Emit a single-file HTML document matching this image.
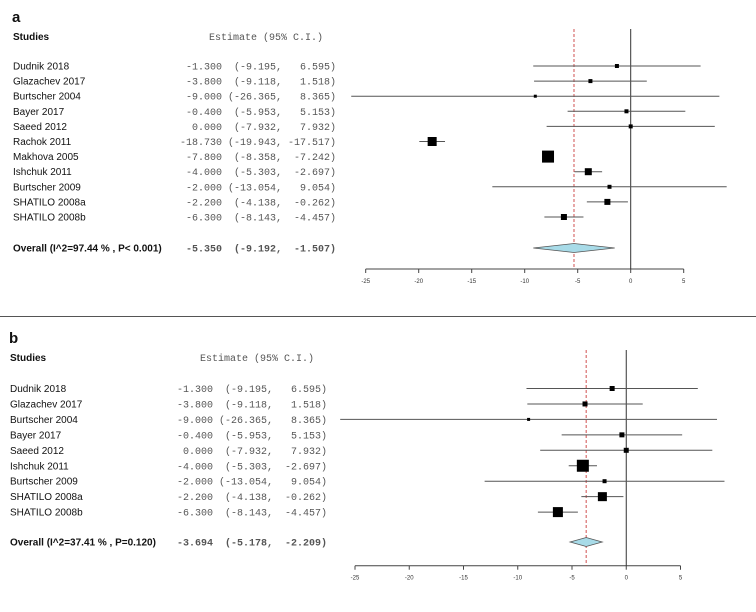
<!DOCTYPE html>
<html><head><meta charset="utf-8"><style>
html,body{margin:0;padding:0;background:#fff;}
svg{display:block;}
.lab{font-family:"Liberation Sans",sans-serif;font-size:10px;fill:#111;}
.mono{font-family:"Liberation Mono",monospace;font-size:10px;fill:#555;white-space:pre;}
.tick{font-family:"Liberation Sans",sans-serif;font-size:6px;fill:#333;}
</style></head><body>
<svg id="chart" width="756" height="612" viewBox="0 0 756 612">
<line x1="0" y1="316.5" x2="756" y2="316.5" stroke="#555" stroke-width="1"/>
</svg>
<script>
const studiesA = ["Dudnik 2018","Glazachev 2017","Burtscher 2004","Bayer 2017","Saeed 2012","Rachok 2011","Makhova 2005","Ishchuk 2011","Burtscher 2009","SHATILO 2008a","SHATILO 2008b"];
const estA = [-1.3,-3.8,-9.0,-0.4,0.0,-18.73,-7.8,-4.0,-2.0,-2.2,-6.3];
const lowA = [-9.195,-9.118,-26.365,-5.953,-7.932,-19.943,-8.358,-5.303,-13.054,-4.138,-8.143];
const highA = [6.595,1.518,8.365,5.153,7.932,-17.517,-7.242,-2.697,9.054,-0.262,-4.457];
const weightA = [4,4,3,4,4,9,12,7,4,6,6];
const overallA = [-5.350,-9.192,-1.507];
const overallLabelA = "Overall (I^2=97.44 % , P< 0.001)";

const studiesB = ["Dudnik 2018","Glazachev 2017","Burtscher 2004","Bayer 2017","Saeed 2012","Ishchuk 2011","Burtscher 2009","SHATILO 2008a","SHATILO 2008b"];
const estB = [-1.3,-3.8,-9.0,-0.4,0.0,-4.0,-2.0,-2.2,-6.3];
const lowB = [-9.195,-9.118,-26.365,-5.953,-7.932,-5.303,-13.054,-4.138,-8.143];
const highB = [6.595,1.518,8.365,5.153,7.932,-2.697,9.054,-0.262,-4.457];
const weightB = [5,5,3,5,5,12,4,9,10];
const overallB = [-3.694,-5.178,-2.209];
const overallLabelB = "Overall (I^2=37.41 % , P=0.120)";

const ticks = [-25,-20,-15,-10,-5,0,5];

const NS="http://www.w3.org/2000/svg";
const svg=document.getElementById('chart');
function mk(tag,attrs,parent){const e=document.createElementNS(NS,tag);for(const k in attrs)e.setAttribute(k,attrs[k]);(parent||svg).appendChild(e);return e;}
function fmt(v){return v.toFixed(3);}
function pad(s,n){while(s.length<n)s=" "+s;return s;}
function ciText(e,lo,hi){return pad(fmt(e),7)+" "+pad("("+fmt(lo),8)+", "+pad(fmt(hi),7)+")";}

function panel(o){
  const g=mk('g',{});
  
  
  const x=v=>o.x0+(v+25)*o.k;
  const y=i=>o.row0+i*o.dy;
  let t=mk('text',{x:o.tx-1,y:o.top-18,'font-family':'Liberation Sans,sans-serif','font-size':'15','font-weight':'bold',fill:'#111'},g);t.textContent=o.letter;
  
  t=mk('text',{x:o.tx,y:o.top,class:'lab','font-weight':'bold'},g);t.textContent="Studies";
  
  t=mk('text',{x:o.ex-127,y:o.top,class:'mono'},g);t.textContent="Estimate (95% C.I.)";
  
  const ay=o.axisY;
  let l=mk('line',{x1:x(-25),y1:ay,x2:x(5),y2:ay,stroke:'#444','stroke-width':1},g);
  
  ticks.forEach(v=>{
    const tl=mk('line',{x1:x(v),y1:ay,x2:x(v),y2:ay+4,stroke:'#444'},g);
    
    const tt=mk('text',{x:x(v),y:ay+14,class:'tick','text-anchor':'middle'},g);tt.textContent=v;
    
  });
  l=mk('line',{x1:x(0),y1:o.zeroTop,x2:x(0),y2:ay,stroke:'#333','stroke-width':1},g);
  
  l=mk('line',{x1:x(o.overall[0]),y1:o.zeroTop,x2:x(o.overall[0]),y2:ay,stroke:'#d05050','stroke-width':1,'stroke-dasharray':'3,2'},g);
  
  o.studies.forEach((s,i)=>{
    const yy=y(i);
    let tx=mk('text',{x:o.tx,y:yy+3.5,class:'lab'},g);tx.textContent=s;
    
    tx=mk('text',{x:o.ex,y:yy+3.5,class:'mono','text-anchor':'end'},g);
    tx.textContent=ciText(o.est[i],o.low[i],o.high[i]);
    
    const ci=mk('line',{x1:x(o.low[i]),y1:yy,x2:x(o.high[i]),y2:yy,stroke:'#555','stroke-width':1},g);
    
    const w=o.w[i];
    const sq=mk('rect',{x:x(o.est[i])-w/2,y:yy-w/2,width:w,height:w,fill:'#000'},g);
    
  });
  const oy=o.overallY;
  let tx=mk('text',{x:o.tx,y:oy+3.5,class:'lab','font-weight':'bold'},g);tx.textContent=o.overallLabel;
  
  tx=mk('text',{x:o.ex,y:oy+3.5,class:'mono','text-anchor':'end','font-weight':'bold'},g);
  tx.setAttribute('fill','#111');
  tx.textContent=ciText(o.overall[0],o.overall[1],o.overall[2]);
  
  const d=mk('polygon',{points:`${x(o.overall[1])},${oy} ${x(o.overall[0])},${oy-4.5} ${x(o.overall[2])},${oy} ${x(o.overall[0])},${oy+4.5}`,fill:'#a8dbe8',stroke:'#555','stroke-width':0.8},g);
  
}
panel({letter:'a',top:40,tx:13,ex:336,x0:365.7,k:10.6,row0:66,dy:15.1,axisY:269,zeroTop:29,overallY:248,
  studies:studiesA,est:estA,low:lowA,high:highA,w:weightA,overall:overallA,overallLabel:overallLabelA});
panel({letter:'b',top:361,tx:10,ex:327,x0:355,k:10.85,row0:388.5,dy:15.45,axisY:565.7,zeroTop:350,overallY:542,
  studies:studiesB,est:estB,low:lowB,high:highB,w:weightB,overall:overallB,overallLabel:overallLabelB});
</script>
</body></html>
